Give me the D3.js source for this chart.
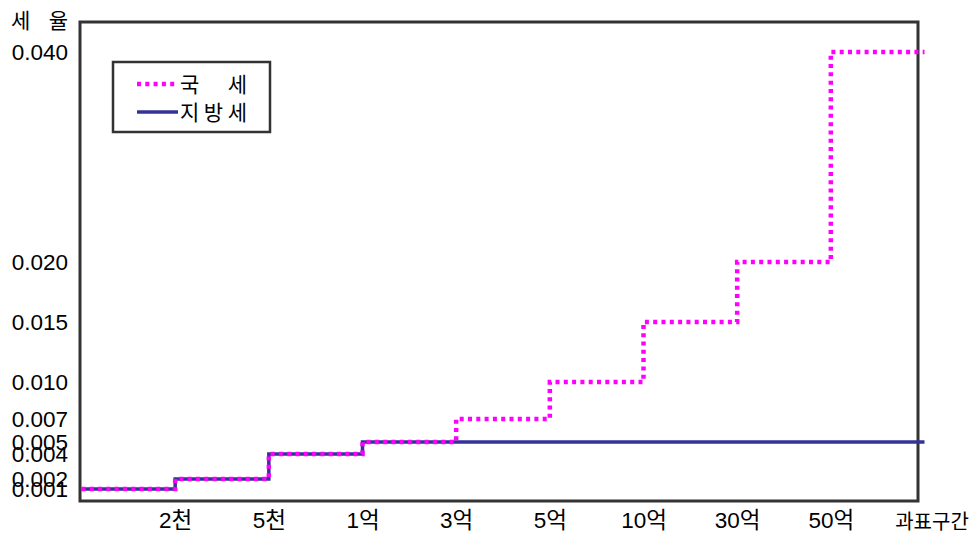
<!DOCTYPE html>
<html>
<head>
<meta charset="utf-8">
<script src="https://cdn.jsdelivr.net/npm/d3@7/dist/d3.min.js"></script>
<style>
  html, body { margin: 0; padding: 0; background: #fff; }
  svg { display: block; }
  text { font-family: "Liberation Sans", Arial, "Noto Sans CJK KR", sans-serif; fill: #000; }
  .kr { font-family: "Liberation Sans", "Noto Sans CJK KR", sans-serif; }
</style>
</head>
<body>
<svg id="chart" width="977" height="536"></svg>
<script>
// Tax base brackets (upper bounds of each band)
const brackets = ["2천", "5천", "1억", "3억", "5억", "10억", "30억", "50억"];
// Rate for each band, lowest band first; the last value applies above 50억
const nationalRates = [0.001, 0.002, 0.004, 0.005, 0.007, 0.010, 0.015, 0.020, 0.040];
const localRates    = [0.001, 0.002, 0.004, 0.005, 0.005, 0.005, 0.005, 0.005, 0.005];
// Rate levels shown on the vertical axis
const rateTicks = [0.001, 0.002, 0.004, 0.005, 0.007, 0.010, 0.015, 0.020, 0.040];
const seriesNames = ["국 세", "지방세"];
const yTitle = "세 율";
const xTitle = "과표구간";

const svg = d3.select("#chart");
const frame = { left: 80, right: 918, top: 22, bottom: 501 };

// Band index 0..9 across the plot
const x = d3.scaleLinear()
  .domain([0, brackets.length + 1])
  .range([81.5, 924.5]);

// Axis is stretched per tick level
const y = d3.scaleLinear()
  .domain(rateTicks)
  .range([489, 479, 454, 442, 419, 382, 322, 262, 52]);

// Plot frame
svg.append("rect")
  .attr("x", frame.left).attr("y", frame.top)
  .attr("width", frame.right - frame.left)
  .attr("height", frame.bottom - frame.top)
  .attr("fill", "none")
  .attr("stroke", "#333")
  .attr("stroke-width", 3);

// Left axis labels
const yAxis = d3.axisLeft(y)
  .tickValues(rateTicks)
  .tickFormat(d3.format(".3f"))
  .tickSize(0)
  .tickPadding(12);
const gy = svg.append("g").attr("transform", `translate(${frame.left},0)`).call(yAxis);
gy.attr("font-family", null).attr("font-size", null);
gy.select(".domain").remove();
gy.selectAll("text").style("font-size", "22.5px").attr("fill", "#000");

// Bottom axis labels at bracket boundaries
const xAxis = d3.axisBottom(x)
  .tickValues(d3.range(1, brackets.length + 1))
  .tickFormat(i => brackets[i - 1])
  .tickSize(0)
  .tickPadding(11);
const gx = svg.append("g").attr("transform", `translate(0,${frame.bottom})`).call(xAxis);
gx.attr("font-family", null).attr("font-size", null);
gx.select(".domain").remove();
gx.selectAll("text").attr("class", "kr").style("font-size", "22.5px").attr("fill", "#000");

// Axis titles
svg.append("text")
  .attr("class", "kr")
  .attr("x", 11).attr("y", 28)
  .attr("textLength", 57)
  .attr("lengthAdjust", "spacing")
  .style("font-size", "21px")
  .text(yTitle);

svg.append("text")
  .attr("class", "kr")
  .attr("x", 932).attr("y", 529)
  .attr("text-anchor", "middle")
  .style("font-size", "20px")
  .text(xTitle);

// Step lines
const stepLine = d3.line()
  .x(d => x(d.i))
  .y(d => y(d.v))
  .curve(d3.curveStepAfter);

const toPoints = rates => {
  const pts = rates.map((v, i) => ({ i, v }));
  pts.push({ i: rates.length, v: rates[rates.length - 1] });
  return pts;
};

svg.append("path")
  .datum(toPoints(localRates))
  .attr("d", stepLine)
  .attr("fill", "none")
  .attr("stroke", "#333399")
  .attr("stroke-width", 3.5);

svg.append("path")
  .datum(toPoints(nationalRates))
  .attr("d", stepLine)
  .attr("fill", "none")
  .attr("stroke", "#ff00ff")
  .attr("stroke-width", 4.5)
  .attr("stroke-dasharray", "4,4.3");

// Legend
const lg = svg.append("g");
lg.append("rect")
  .attr("x", 113).attr("y", 62)
  .attr("width", 157).attr("height", 70)
  .attr("fill", "#fff")
  .attr("stroke", "#333")
  .attr("stroke-width", 2.5);

const legendItems = [
  { name: seriesNames[0], color: "#ff00ff", width: 4.5, dash: "4,4.3", cy: 84 },
  { name: seriesNames[1], color: "#333399", width: 3.5, dash: null, cy: 112 }
];
legendItems.forEach(it => {
  lg.append("line")
    .attr("x1", 137).attr("x2", 178)
    .attr("y1", it.cy).attr("y2", it.cy)
    .attr("stroke", it.color)
    .attr("stroke-width", it.width)
    .attr("stroke-dasharray", it.dash);
  lg.append("text")
    .attr("class", "kr")
    .attr("x", 180).attr("y", it.cy + 8)
    .attr("textLength", 67)
    .attr("lengthAdjust", "spacing")
    .style("font-size", "21px")
    .text(it.name);
});
</script>
</body>
</html>
